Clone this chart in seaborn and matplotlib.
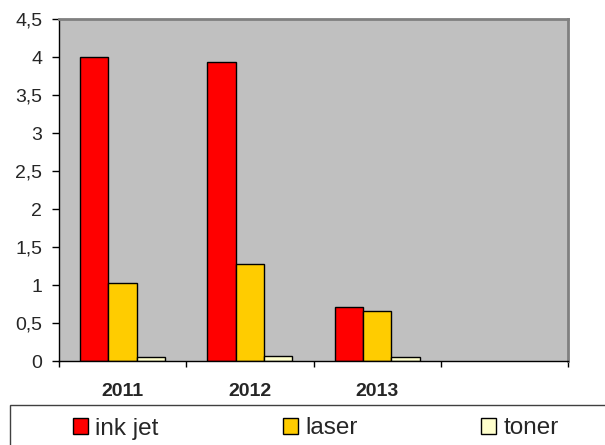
import matplotlib
matplotlib.use("Agg")
import matplotlib.pyplot as plt
import seaborn as sns
import pandas as pd
from matplotlib.patches import Patch, Rectangle
from matplotlib.ticker import FuncFormatter

sns.set_style("white")
plt.rcParams['font.family'] = ['Liberation Sans', 'DejaVu Sans']

# Data
years = ["2011", "2012", "2013"]
slots = ["2011", "2012", "2013", "2014"]
ink_jet = [4.0, 3.94, 0.71]
laser = [1.03, 1.28, 0.66]
toner = [0.05, 0.07, 0.055]
series_names = ["ink jet", "laser", "toner"]
colors = ["#FF0000", "#FFCC00", "#FFFFCC"]

df = pd.DataFrame({
    "year": years * 3,
    "series": [s for s in series_names for _ in years],
    "value": ink_jet + laser + toner,
})

fig = plt.figure(figsize=(6.05, 4.45), dpi=100)
ax = fig.add_axes([59 / 605, 84 / 445, 509 / 605, 342 / 445])
ax.set_facecolor("#C0C0C0")

sns.barplot(data=df, x="year", y="value", hue="series", order=slots,
            hue_order=series_names, palette=colors, width=0.667,
            edgecolor="black", linewidth=1, saturation=1, legend=False, ax=ax)

ax.set_ylim(0, 4.5)
ax.set_xlim(-0.5, 3.5)
ax.set_yticks([i * 0.5 for i in range(10)])
ax.yaxis.set_major_formatter(FuncFormatter(lambda v, p: f"{v:g}".replace(".", ",")))
ax.set_xticks([0, 1, 2, 3])
ax.set_xticklabels(["2011", "2012", "2013", ""], fontweight="bold", fontsize=14)
ax.tick_params(axis="x", length=0, pad=16)
ax.tick_params(axis="y", labelsize=14, length=5, width=1, pad=7,
               color="black", direction="out", left=True)
# slot boundary ticks
ax.set_xticks([-0.5, 0.5, 1.5, 2.5, 3.5], minor=True)
ax.tick_params(axis="x", which="minor", length=4, width=1, color="black", direction="out", bottom=True)
ax.set_xlabel("")
ax.set_ylabel("")

for side in ["left", "bottom"]:
    ax.spines[side].set_color("black")
    ax.spines[side].set_linewidth(1)
for side in ["top", "right"]:
    ax.spines[side].set_color("#808080")
    ax.spines[side].set_linewidth(2)

# legend box, cut off by the figure edge
fig.patches.append(Rectangle((10 / 605, -0.05), 1.0, (445 - 405) / 445 + 0.05,
                             transform=fig.transFigure, facecolor="white",
                             edgecolor="#404040", linewidth=1))

handles = [Patch(facecolor=c, edgecolor="black", linewidth=1) for c in colors]
leg = fig.legend(handles, series_names, loc="center left",
                 bbox_to_anchor=(73 / 605, 1 - 428.5 / 445),
                 ncol=3, fontsize=17.5, frameon=False,
                 handlelength=0.62, handleheight=0.62, handletextpad=0.3,
                 columnspacing=5.1, borderpad=0, borderaxespad=0)

fig.savefig("out.png", dpi=100)
